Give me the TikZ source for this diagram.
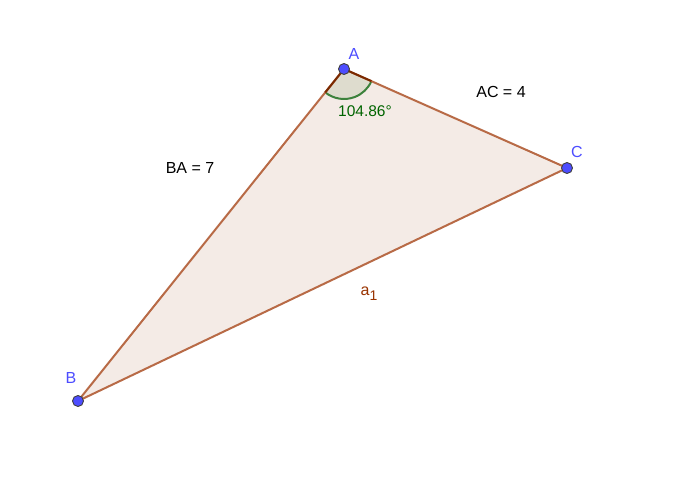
\documentclass[tikz,border=0pt]{standalone}
\usepackage{fontspec}
\setmainfont{Liberation Sans}
\begin{document}
\begin{tikzpicture}[x=1pt,y=1pt,
  edge/.style={draw=edgecol,line width=2pt},
  pt/.style={circle,fill=ptcol,draw=black!75,line width=0.9pt,minimum size=11pt,inner sep=0pt},
  ptlab/.style={text=labcol,font=\fontsize{16}{19}\selectfont},
  lab/.style={text=black,font=\fontsize{16}{19}\selectfont}]
\definecolor{edgecol}{RGB}{184,106,70}
\definecolor{fillcol}{RGB}{244,235,230}
\definecolor{ptcol}{RGB}{77,77,255}
\definecolor{labcol}{RGB}{77,77,255}
\definecolor{anggreen}{RGB}{60,130,60}
\definecolor{angtext}{RGB}{0,100,0}
\definecolor{angfill}{RGB}{222,220,206}
\definecolor{a1col}{RGB}{153,51,0}
\useasboundingbox (0,0) rectangle (700,500);
\fill[white] (0,0) rectangle (700,500);
\coordinate (A) at (344,431);
\coordinate (B) at (78,99);
\coordinate (C) at (567,332);
\fill[fillcol] (A) -- (B) -- (C) -- cycle;
\fill[angfill] (A) -- ++(231.3:30) arc[start angle=231.3,end angle=336.1,radius=30] -- cycle;
\draw[anggreen,line width=2pt] (A) ++(231.3:30) arc[start angle=231.3,end angle=336.1,radius=30];
\draw[edge] (A) -- (B) -- (C) -- cycle;
\draw[draw=a1col!80!black,line width=2pt] (A) -- ++(231.3:30) (A) -- ++(336.1:30);
\node[pt] (pA) at (A) {};
\node[pt] (pB) at (B) {};
\node[pt] (pC) at (C) {};
\node[ptlab] (lA) at (354,446) {A};
\node[ptlab] (lB) at (71,122) {B};
\node[ptlab] (lC) at (577,348) {C};
\node[lab] (lBA) at (190,332) {BA = 7};
\node[lab] (lAC) at (501,408) {AC = 4};
\node[text=angtext,font=\fontsize{15.5}{19}\selectfont] (ang) at (365,389) {104.86°};
\node[text=a1col,font=\fontsize{16}{19}\selectfont] (la1) at (369,206) {a\raisebox{-5pt}{\fontsize{14}{16}\selectfont 1}};
\end{tikzpicture}
\end{document}
